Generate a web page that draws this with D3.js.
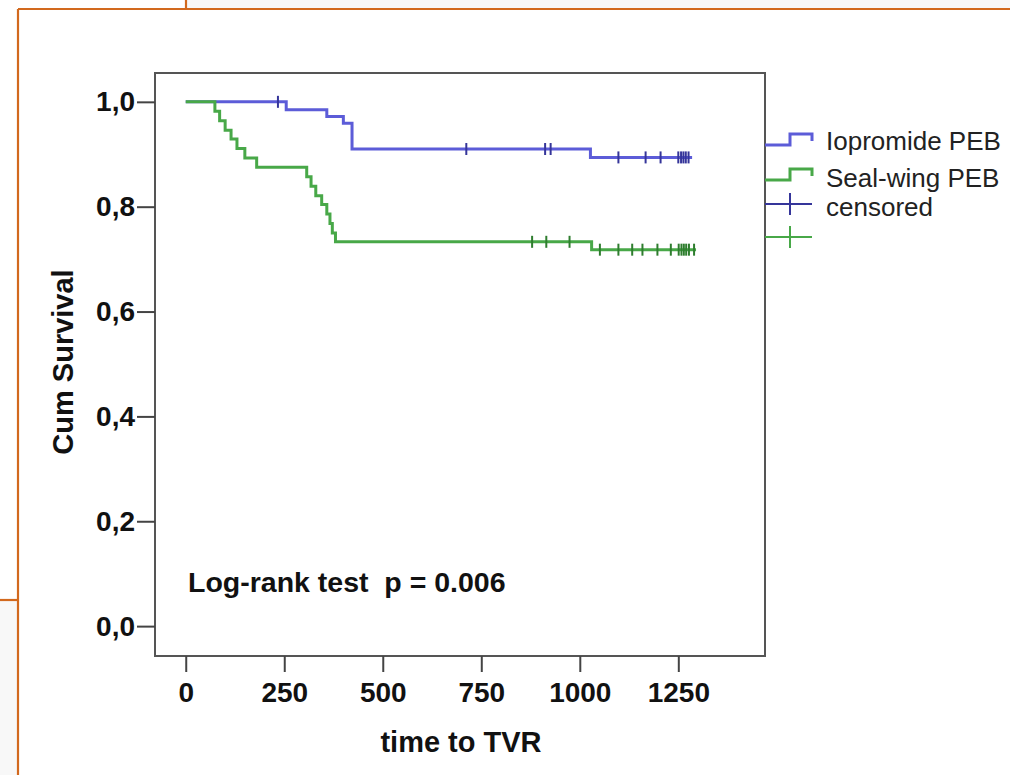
<!DOCTYPE html>
<html>
<head>
<meta charset="utf-8">
<script src="https://cdn.jsdelivr.net/npm/d3@7"></script>
<style>
    body { margin: 0; background: #fff; }
    svg { font-family: "Liberation Sans", Arial, sans-serif; }
</style>
</head>
<body>
<div id="chart"></div>
<script>
// Kaplan-Meier data (days, cumulative survival)
const iopromideTimes = [0, 255, 358, 400, 422, 1027];
const iopromideSurv  = [1.0, 0.985, 0.972, 0.959, 0.910, 0.894];
const iopromideCensored = [234, 712, 912, 926, 1098, 1167, 1205, 1250, 1257, 1263, 1269, 1276];
const iopromideEnd = 1285;

const sealwingTimes = [0, 74, 86, 100, 115, 130, 150, 180, 307, 318, 330, 345, 358, 366, 372, 380, 1030];
const sealwingSurv  = [1.0, 0.982, 0.964, 0.946, 0.929, 0.911, 0.893, 0.875, 0.857, 0.839, 0.821, 0.804, 0.786, 0.768, 0.750, 0.733, 0.718];
const sealwingCensored = [879, 915, 974, 1051, 1098, 1133, 1159, 1197, 1231, 1251, 1258, 1264, 1270, 1277, 1290];
const sealwingEnd = 1295;

const xTicks = [0, 250, 500, 750, 1000, 1250];
const yTicks = [0, 0.2, 0.4, 0.6, 0.8, 1.0];
const legendLabels = ["Iopromide PEB", "Seal-wing PEB", "censored"];

const width = 1010, height = 775;
const plot = {left: 155, right: 765, top: 73, bottom: 656};

const blue = "#5c5cd8", blueDark = "#35359a";
const green = "#48a848", greenDark = "#2e7d2e";
const orange = "#d2691e";

const svg = d3.select("#chart").append("svg")
    .attr("width", width)
    .attr("height", height);

// slide background bits (texture + orange frame)
svg.append("rect").attr("x", 187).attr("y", 0).attr("width", width - 187).attr("height", 8).attr("fill", "#f8f8f8");
svg.append("rect").attr("x", 0).attr("y", 601).attr("width", 17).attr("height", height - 601).attr("fill", "#f8f8f8");
const frameLines = [[18, 9, width, 9], [18, 9, 18, height], [186, 0, 186, 9], [0, 600, 18, 600]];
svg.selectAll(".orange")
    .data(frameLines)
    .enter().append("line")
    .attr("class", "orange")
    .attr("x1", d => d[0]).attr("y1", d => d[1])
    .attr("x2", d => d[2]).attr("y2", d => d[3])
    .attr("stroke", orange)
    .attr("stroke-width", 2.2);

// Scales
const xScale = d3.scaleLinear()
    .domain([-78, 1470])
    .range([plot.left, plot.right]);

const yScale = d3.scaleLinear()
    .domain([-0.057, 1.055])
    .range([plot.bottom, plot.top]);

// Plot frame
svg.append("rect")
    .attr("x", plot.left)
    .attr("y", plot.top)
    .attr("width", plot.right - plot.left)
    .attr("height", plot.bottom - plot.top)
    .attr("fill", "#fff")
    .attr("stroke", "#555")
    .attr("stroke-width", 2);

// Axes
const xAxis = svg.append("g")
    .attr("transform", `translate(0,${plot.bottom})`)
    .call(d3.axisBottom(xScale).tickValues(xTicks).tickSize(16).tickPadding(10)
        .tickFormat(d => String(d)));

const yAxis = svg.append("g")
    .attr("transform", `translate(${plot.left},0)`)
    .call(d3.axisLeft(yScale).tickValues(yTicks).tickSize(18).tickPadding(2)
        .tickFormat(d => d3.format(".1f")(d).replace(".", ",")));

[xAxis, yAxis].forEach(a => {
    a.attr("font-family", null);
    a.select(".domain").remove();
    a.selectAll(".tick line").attr("stroke", "#444").attr("stroke-width", 2);
    a.selectAll(".tick text")
        .attr("fill", "#111")
        .style("font-size", "28px")
        .style("font-weight", "bold");
});

// Axis labels
svg.append("text")
    .attr("x", 461)
    .attr("y", 751.5)
    .attr("text-anchor", "middle")
    .style("font-size", "29px")
    .style("font-weight", "bold")
    .attr("fill", "#111")
    .text("time to TVR");

svg.append("text")
    .attr("transform", "translate(72.5,362) rotate(-90)")
    .attr("text-anchor", "middle")
    .style("font-size", "29px")
    .style("font-weight", "bold")
    .attr("fill", "#111")
    .text("Cum Survival");

// Survival curves
function stepPoints(times, surv, end) {
    const pts = times.map((t, i) => [t, surv[i]]);
    pts.push([end, surv[surv.length - 1]]);
    return pts;
}

function survAt(times, surv, t) {
    let s = surv[0];
    times.forEach((tt, i) => { if (tt <= t) s = surv[i]; });
    return s;
}

const line = d3.line()
    .x(d => xScale(d[0]))
    .y(d => yScale(d[1]))
    .curve(d3.curveStepAfter);

const groups = [
    {times: iopromideTimes, surv: iopromideSurv, cens: iopromideCensored, end: iopromideEnd, color: blue, dark: blueDark},
    {times: sealwingTimes, surv: sealwingSurv, cens: sealwingCensored, end: sealwingEnd, color: green, dark: greenDark}
];

groups.forEach(g => {
    svg.append("path")
        .datum(stepPoints(g.times, g.surv, g.end))
        .attr("fill", "none")
        .attr("stroke", g.color)
        .attr("stroke-width", 3)
        .attr("d", line);

    // censor marks
    svg.selectAll(null)
        .data(g.cens)
        .enter().append("line")
        .attr("x1", d => xScale(d))
        .attr("x2", d => xScale(d))
        .attr("y1", d => yScale(survAt(g.times, g.surv, d)) - 6)
        .attr("y2", d => yScale(survAt(g.times, g.surv, d)) + 6)
        .attr("stroke", g.dark)
        .attr("stroke-width", 2);
});

// Log-rank annotation
svg.append("text")
    .attr("x", 188)
    .attr("y", 591.5)
    .style("font-size", "28.5px")
    .style("font-weight", "bold")
    .style("white-space", "pre")
    .attr("fill", "#111")
    .text("Log-rank test  p = 0.006");

// Legend
const legend = svg.append("g");
const legendItems = [
    {y: 145, color: blue, type: "step"},
    {y: 180, color: green, type: "step"},
    {y: 204, color: blueDark, type: "cens"},
    {y: 237, color: green, type: "cens"}
];
legendItems.forEach(d => {
    if (d.type === "step") {
        legend.append("path")
            .attr("d", `M${plot.right},${d.y}H790V${d.y - 11}H812V${d.y - 4}`)
            .attr("fill", "none")
            .attr("stroke", d.color)
            .attr("stroke-width", 3);
    } else {
        legend.append("path")
            .attr("d", `M${plot.right},${d.y}H812M790,${d.y - 11}V${d.y + 11}`)
            .attr("fill", "none")
            .attr("stroke", d.color)
            .attr("stroke-width", 2);
    }
});
legend.selectAll("text")
    .data(legendLabels)
    .enter().append("text")
    .attr("x", 826)
    .attr("y", (d, i) => [150, 187, 216][i])
    .style("font-size", "26px")
    .attr("fill", "#222")
    .text(d => d);
</script>
</body>
</html>
